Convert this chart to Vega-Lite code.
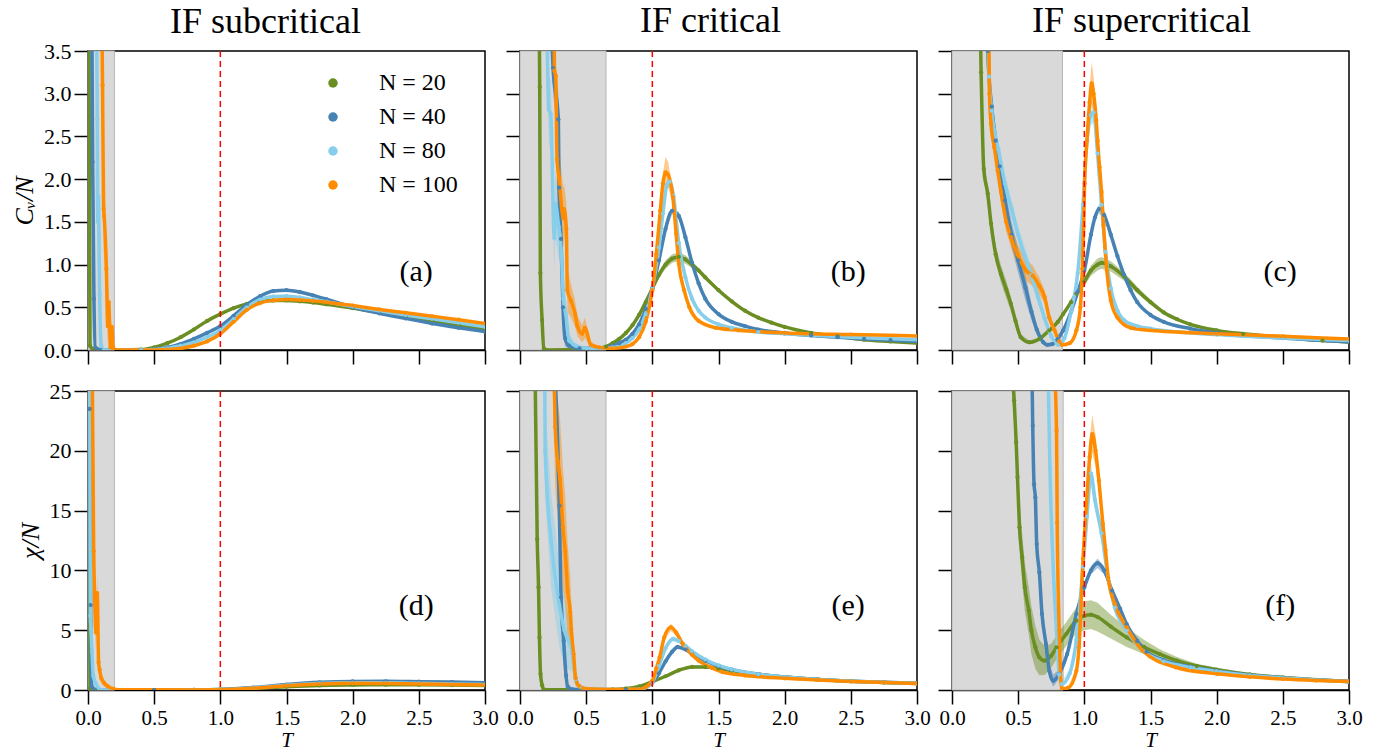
{
"$schema": "https://vega.github.io/schema/vega-lite/v6.json",
"padding": {"left": 10, "top": 2, "right": 5, "bottom": 0},
"background": "white",
"datasets": {
"shade": [
{"p":"a","t":0,"t2":0.2},{"p":"b","t":0,"t2":0.65},{"p":"c","t":0,"t2":0.835},
{"p":"d","t":0,"t2":0.2},{"p":"e","t":0,"t2":0.65},{"p":"f","t":0,"t2":0.84}],
"tc": [{"t": 1}],
"labels": [
{"p":"a","t":2.48,"v":0.91,"s":"(a)"},{"p":"b","t":2.48,"v":0.91,"s":"(b)"},{"p":"c","t":2.48,"v":0.91,"s":"(c)"},
{"p":"d","t":2.48,"v":7.0,"s":"(d)"},{"p":"e","t":2.48,"v":7.0,"s":"(e)"},{"p":"f","t":2.48,"v":7.0,"s":"(f)"}],
"curves": [
{"p":"a","n":"N = 20","t":0.005,"v":4.5,"e":0.5},{"p":"a","n":"N = 20","t":0.015,"v":0.05,"e":0.02},{"p":"a","n":"N = 20","t":0.05,"v":0,"e":0},{"p":"a","n":"N = 20","t":0.2,"v":0,"e":0},{"p":"a","n":"N = 20","t":0.4,"v":0.005,"e":0},{"p":"a","n":"N = 20","t":0.5,"v":0.03,"e":0},{"p":"a","n":"N = 20","t":0.6,"v":0.08,"e":0.005},{"p":"a","n":"N = 20","t":0.7,"v":0.15,"e":0.008},{"p":"a","n":"N = 20","t":0.8,"v":0.24,"e":0.01},{"p":"a","n":"N = 20","t":0.9,"v":0.34,"e":0.01},{"p":"a","n":"N = 20","t":1.0,"v":0.42,"e":0.01},{"p":"a","n":"N = 20","t":1.1,"v":0.49,"e":0.01},{"p":"a","n":"N = 20","t":1.2,"v":0.54,"e":0.01},{"p":"a","n":"N = 20","t":1.3,"v":0.57,"e":0.01},{"p":"a","n":"N = 20","t":1.4,"v":0.58,"e":0.01},{"p":"a","n":"N = 20","t":1.5,"v":0.58,"e":0.01},{"p":"a","n":"N = 20","t":1.6,"v":0.57,"e":0.01},{"p":"a","n":"N = 20","t":1.7,"v":0.555,"e":0.01},{"p":"a","n":"N = 20","t":1.8,"v":0.535,"e":0.01},{"p":"a","n":"N = 20","t":2.0,"v":0.49,"e":0.01},{"p":"a","n":"N = 20","t":2.2,"v":0.44,"e":0.01},{"p":"a","n":"N = 20","t":2.4,"v":0.39,"e":0.01},{"p":"a","n":"N = 20","t":2.6,"v":0.34,"e":0.01},{"p":"a","n":"N = 20","t":2.8,"v":0.29,"e":0.01},{"p":"a","n":"N = 20","t":3.0,"v":0.245,"e":0.01},
{"p":"a","n":"N = 40","t":0.025,"v":5,"e":0.5},{"p":"a","n":"N = 40","t":0.035,"v":2.2,"e":0.4},{"p":"a","n":"N = 40","t":0.045,"v":0.6,"e":0.3},{"p":"a","n":"N = 40","t":0.055,"v":0.03,"e":0.02},{"p":"a","n":"N = 40","t":0.1,"v":0,"e":0},{"p":"a","n":"N = 40","t":0.4,"v":0,"e":0},{"p":"a","n":"N = 40","t":0.5,"v":0.01,"e":0},{"p":"a","n":"N = 40","t":0.6,"v":0.03,"e":0.005},{"p":"a","n":"N = 40","t":0.7,"v":0.07,"e":0.005},{"p":"a","n":"N = 40","t":0.8,"v":0.13,"e":0.008},{"p":"a","n":"N = 40","t":0.9,"v":0.2,"e":0.01},{"p":"a","n":"N = 40","t":1.0,"v":0.28,"e":0.01},{"p":"a","n":"N = 40","t":1.1,"v":0.4,"e":0.01},{"p":"a","n":"N = 40","t":1.2,"v":0.53,"e":0.01},{"p":"a","n":"N = 40","t":1.3,"v":0.63,"e":0.01},{"p":"a","n":"N = 40","t":1.4,"v":0.69,"e":0.01},{"p":"a","n":"N = 40","t":1.5,"v":0.7,"e":0.01},{"p":"a","n":"N = 40","t":1.6,"v":0.68,"e":0.01},{"p":"a","n":"N = 40","t":1.7,"v":0.64,"e":0.01},{"p":"a","n":"N = 40","t":1.8,"v":0.595,"e":0.01},{"p":"a","n":"N = 40","t":2.0,"v":0.5,"e":0.01},{"p":"a","n":"N = 40","t":2.2,"v":0.43,"e":0.01},{"p":"a","n":"N = 40","t":2.4,"v":0.37,"e":0.01},{"p":"a","n":"N = 40","t":2.6,"v":0.31,"e":0.01},{"p":"a","n":"N = 40","t":2.8,"v":0.26,"e":0.01},{"p":"a","n":"N = 40","t":3.0,"v":0.215,"e":0.01},
{"p":"a","n":"N = 80","t":0.06,"v":5,"e":0.5},{"p":"a","n":"N = 80","t":0.07,"v":2.7,"e":0.5},{"p":"a","n":"N = 80","t":0.074,"v":1.5,"e":0.5},{"p":"a","n":"N = 80","t":0.078,"v":1.8,"e":0.5},{"p":"a","n":"N = 80","t":0.088,"v":0.65,"e":0.3},{"p":"a","n":"N = 80","t":0.1,"v":0.05,"e":0.03},{"p":"a","n":"N = 80","t":0.12,"v":0,"e":0},{"p":"a","n":"N = 80","t":0.4,"v":0,"e":0},{"p":"a","n":"N = 80","t":0.5,"v":0.005,"e":0},{"p":"a","n":"N = 80","t":0.6,"v":0.02,"e":0},{"p":"a","n":"N = 80","t":0.7,"v":0.05,"e":0.005},{"p":"a","n":"N = 80","t":0.8,"v":0.09,"e":0.005},{"p":"a","n":"N = 80","t":0.9,"v":0.15,"e":0.01},{"p":"a","n":"N = 80","t":1.0,"v":0.23,"e":0.01},{"p":"a","n":"N = 80","t":1.1,"v":0.36,"e":0.01},{"p":"a","n":"N = 80","t":1.2,"v":0.5,"e":0.01},{"p":"a","n":"N = 80","t":1.3,"v":0.59,"e":0.01},{"p":"a","n":"N = 80","t":1.4,"v":0.625,"e":0.01},{"p":"a","n":"N = 80","t":1.5,"v":0.63,"e":0.01},{"p":"a","n":"N = 80","t":1.6,"v":0.615,"e":0.01},{"p":"a","n":"N = 80","t":1.7,"v":0.59,"e":0.01},{"p":"a","n":"N = 80","t":1.8,"v":0.565,"e":0.01},{"p":"a","n":"N = 80","t":2.0,"v":0.51,"e":0.01},{"p":"a","n":"N = 80","t":2.2,"v":0.46,"e":0.01},{"p":"a","n":"N = 80","t":2.4,"v":0.41,"e":0.01},{"p":"a","n":"N = 80","t":2.6,"v":0.365,"e":0.01},{"p":"a","n":"N = 80","t":2.8,"v":0.32,"e":0.01},{"p":"a","n":"N = 80","t":3.0,"v":0.27,"e":0.01},
{"p":"a","n":"N = 100","t":0.09,"v":5,"e":0.6},{"p":"a","n":"N = 100","t":0.11,"v":3.1,"e":0.6},{"p":"a","n":"N = 100","t":0.118,"v":1.65,"e":0.5},{"p":"a","n":"N = 100","t":0.122,"v":1.57,"e":0.5},{"p":"a","n":"N = 100","t":0.139,"v":0.95,"e":0.4},{"p":"a","n":"N = 100","t":0.149,"v":0.28,"e":0.2},{"p":"a","n":"N = 100","t":0.156,"v":0.56,"e":0.2},{"p":"a","n":"N = 100","t":0.17,"v":0.03,"e":0.03},{"p":"a","n":"N = 100","t":0.18,"v":0.27,"e":0.1},{"p":"a","n":"N = 100","t":0.19,"v":0.02,"e":0.02},{"p":"a","n":"N = 100","t":0.22,"v":0,"e":0},{"p":"a","n":"N = 100","t":0.5,"v":0,"e":0},{"p":"a","n":"N = 100","t":0.6,"v":0.005,"e":0},{"p":"a","n":"N = 100","t":0.7,"v":0.02,"e":0},{"p":"a","n":"N = 100","t":0.8,"v":0.05,"e":0.005},{"p":"a","n":"N = 100","t":0.9,"v":0.1,"e":0.008},{"p":"a","n":"N = 100","t":1.0,"v":0.19,"e":0.01},{"p":"a","n":"N = 100","t":1.1,"v":0.33,"e":0.01},{"p":"a","n":"N = 100","t":1.2,"v":0.47,"e":0.01},{"p":"a","n":"N = 100","t":1.3,"v":0.55,"e":0.01},{"p":"a","n":"N = 100","t":1.4,"v":0.58,"e":0.01},{"p":"a","n":"N = 100","t":1.5,"v":0.59,"e":0.01},{"p":"a","n":"N = 100","t":1.6,"v":0.585,"e":0.01},{"p":"a","n":"N = 100","t":1.7,"v":0.575,"e":0.01},{"p":"a","n":"N = 100","t":1.8,"v":0.56,"e":0.01},{"p":"a","n":"N = 100","t":2.0,"v":0.52,"e":0.01},{"p":"a","n":"N = 100","t":2.2,"v":0.475,"e":0.01},{"p":"a","n":"N = 100","t":2.4,"v":0.435,"e":0.01},{"p":"a","n":"N = 100","t":2.6,"v":0.395,"e":0.01},{"p":"a","n":"N = 100","t":2.8,"v":0.355,"e":0.01},{"p":"a","n":"N = 100","t":3.0,"v":0.31,"e":0.01},

{"p":"b","n":"N = 20","t":0.14,"v":5,"e":0.1},{"p":"b","n":"N = 20","t":0.149,"v":3.08,"e":0.1},{"p":"b","n":"N = 20","t":0.154,"v":0.9,"e":0.1},{"p":"b","n":"N = 20","t":0.167,"v":0.35,"e":0.05},{"p":"b","n":"N = 20","t":0.18,"v":0.02,"e":0.01},{"p":"b","n":"N = 20","t":0.2,"v":0,"e":0},{"p":"b","n":"N = 20","t":0.5,"v":0.005,"e":0},{"p":"b","n":"N = 20","t":0.6,"v":0.02,"e":0},{"p":"b","n":"N = 20","t":0.65,"v":0.04,"e":0.005},{"p":"b","n":"N = 20","t":0.7,"v":0.08,"e":0.005},{"p":"b","n":"N = 20","t":0.75,"v":0.13,"e":0.01},{"p":"b","n":"N = 20","t":0.8,"v":0.2,"e":0.01},{"p":"b","n":"N = 20","t":0.85,"v":0.29,"e":0.01},{"p":"b","n":"N = 20","t":0.9,"v":0.41,"e":0.015},{"p":"b","n":"N = 20","t":0.95,"v":0.56,"e":0.02},{"p":"b","n":"N = 20","t":1.0,"v":0.72,"e":0.03},{"p":"b","n":"N = 20","t":1.05,"v":0.88,"e":0.04},{"p":"b","n":"N = 20","t":1.1,"v":1.0,"e":0.05},{"p":"b","n":"N = 20","t":1.15,"v":1.07,"e":0.05},{"p":"b","n":"N = 20","t":1.2,"v":1.09,"e":0.05},{"p":"b","n":"N = 20","t":1.25,"v":1.06,"e":0.05},{"p":"b","n":"N = 20","t":1.3,"v":1.0,"e":0.04},{"p":"b","n":"N = 20","t":1.35,"v":0.93,"e":0.03},{"p":"b","n":"N = 20","t":1.4,"v":0.85,"e":0.03},{"p":"b","n":"N = 20","t":1.5,"v":0.7,"e":0.02},{"p":"b","n":"N = 20","t":1.6,"v":0.57,"e":0.02},{"p":"b","n":"N = 20","t":1.7,"v":0.46,"e":0.015},{"p":"b","n":"N = 20","t":1.8,"v":0.38,"e":0.01},{"p":"b","n":"N = 20","t":1.9,"v":0.32,"e":0.01},{"p":"b","n":"N = 20","t":2.0,"v":0.27,"e":0.01},{"p":"b","n":"N = 20","t":2.2,"v":0.2,"e":0.01},{"p":"b","n":"N = 20","t":2.4,"v":0.16,"e":0.01},{"p":"b","n":"N = 20","t":2.6,"v":0.12,"e":0.01},{"p":"b","n":"N = 20","t":2.8,"v":0.1,"e":0.01},{"p":"b","n":"N = 20","t":3.0,"v":0.08,"e":0.01},
{"p":"b","n":"N = 40","t":0.21,"v":5,"e":0.3},{"p":"b","n":"N = 40","t":0.25,"v":3.3,"e":0.3},{"p":"b","n":"N = 40","t":0.29,"v":2.7,"e":0.3},{"p":"b","n":"N = 40","t":0.295,"v":1.9,"e":0.3},{"p":"b","n":"N = 40","t":0.31,"v":1.3,"e":0.3},{"p":"b","n":"N = 40","t":0.325,"v":0.5,"e":0.2},{"p":"b","n":"N = 40","t":0.34,"v":0.14,"e":0.1},{"p":"b","n":"N = 40","t":0.37,"v":0.05,"e":0.03},{"p":"b","n":"N = 40","t":0.45,"v":0.02,"e":0.01},{"p":"b","n":"N = 40","t":0.6,"v":0.02,"e":0},{"p":"b","n":"N = 40","t":0.7,"v":0.05,"e":0},{"p":"b","n":"N = 40","t":0.75,"v":0.08,"e":0.005},{"p":"b","n":"N = 40","t":0.8,"v":0.12,"e":0.005},{"p":"b","n":"N = 40","t":0.85,"v":0.19,"e":0.01},{"p":"b","n":"N = 40","t":0.9,"v":0.3,"e":0.01},{"p":"b","n":"N = 40","t":0.95,"v":0.48,"e":0.02},{"p":"b","n":"N = 40","t":1.0,"v":0.72,"e":0.02},{"p":"b","n":"N = 40","t":1.05,"v":1.05,"e":0.03},{"p":"b","n":"N = 40","t":1.1,"v":1.42,"e":0.03},{"p":"b","n":"N = 40","t":1.15,"v":1.63,"e":0.04},{"p":"b","n":"N = 40","t":1.2,"v":1.57,"e":0.04},{"p":"b","n":"N = 40","t":1.25,"v":1.32,"e":0.03},{"p":"b","n":"N = 40","t":1.3,"v":1.02,"e":0.03},{"p":"b","n":"N = 40","t":1.35,"v":0.78,"e":0.02},{"p":"b","n":"N = 40","t":1.4,"v":0.6,"e":0.02},{"p":"b","n":"N = 40","t":1.5,"v":0.42,"e":0.01},{"p":"b","n":"N = 40","t":1.6,"v":0.33,"e":0.01},{"p":"b","n":"N = 40","t":1.7,"v":0.28,"e":0.01},{"p":"b","n":"N = 40","t":1.8,"v":0.24,"e":0.01},{"p":"b","n":"N = 40","t":2.0,"v":0.2,"e":0.01},{"p":"b","n":"N = 40","t":2.2,"v":0.17,"e":0.01},{"p":"b","n":"N = 40","t":2.4,"v":0.15,"e":0.01},{"p":"b","n":"N = 40","t":2.6,"v":0.13,"e":0.01},{"p":"b","n":"N = 40","t":2.8,"v":0.115,"e":0.01},{"p":"b","n":"N = 40","t":3.0,"v":0.1,"e":0.01},
{"p":"b","n":"N = 80","t":0.195,"v":5,"e":0.4},{"p":"b","n":"N = 80","t":0.217,"v":2.82,"e":0.4},{"p":"b","n":"N = 80","t":0.232,"v":2.76,"e":0.4},{"p":"b","n":"N = 80","t":0.259,"v":1.31,"e":0.4},{"p":"b","n":"N = 80","t":0.267,"v":1.71,"e":0.4},{"p":"b","n":"N = 80","t":0.293,"v":1.44,"e":0.35},{"p":"b","n":"N = 80","t":0.3,"v":1.35,"e":0.35},{"p":"b","n":"N = 80","t":0.313,"v":1.13,"e":0.3},{"p":"b","n":"N = 80","t":0.328,"v":0.6,"e":0.25},{"p":"b","n":"N = 80","t":0.346,"v":0.42,"e":0.2},{"p":"b","n":"N = 80","t":0.371,"v":0.11,"e":0.08},{"p":"b","n":"N = 80","t":0.42,"v":0.05,"e":0.03},{"p":"b","n":"N = 80","t":0.5,"v":0.02,"e":0.01},{"p":"b","n":"N = 80","t":0.6,"v":0.02,"e":0},{"p":"b","n":"N = 80","t":0.7,"v":0.03,"e":0},{"p":"b","n":"N = 80","t":0.8,"v":0.08,"e":0.005},{"p":"b","n":"N = 80","t":0.85,"v":0.14,"e":0.01},{"p":"b","n":"N = 80","t":0.9,"v":0.24,"e":0.01},{"p":"b","n":"N = 80","t":0.95,"v":0.42,"e":0.02},{"p":"b","n":"N = 80","t":1.0,"v":0.72,"e":0.03},{"p":"b","n":"N = 80","t":1.05,"v":1.2,"e":0.04},{"p":"b","n":"N = 80","t":1.08,"v":1.6,"e":0.05},{"p":"b","n":"N = 80","t":1.11,"v":1.93,"e":0.06},{"p":"b","n":"N = 80","t":1.13,"v":1.97,"e":0.06},{"p":"b","n":"N = 80","t":1.16,"v":1.8,"e":0.05},{"p":"b","n":"N = 80","t":1.2,"v":1.25,"e":0.04},{"p":"b","n":"N = 80","t":1.25,"v":0.85,"e":0.03},{"p":"b","n":"N = 80","t":1.3,"v":0.6,"e":0.02},{"p":"b","n":"N = 80","t":1.35,"v":0.46,"e":0.02},{"p":"b","n":"N = 80","t":1.4,"v":0.38,"e":0.01},{"p":"b","n":"N = 80","t":1.5,"v":0.3,"e":0.01},{"p":"b","n":"N = 80","t":1.6,"v":0.26,"e":0.01},{"p":"b","n":"N = 80","t":1.8,"v":0.21,"e":0.01},{"p":"b","n":"N = 80","t":2.0,"v":0.19,"e":0.01},{"p":"b","n":"N = 80","t":2.5,"v":0.15,"e":0.01},{"p":"b","n":"N = 80","t":3.0,"v":0.12,"e":0.01},
{"p":"b","n":"N = 100","t":0.255,"v":5,"e":0.4},{"p":"b","n":"N = 100","t":0.26,"v":3.27,"e":0.4},{"p":"b","n":"N = 100","t":0.27,"v":3.21,"e":0.4},{"p":"b","n":"N = 100","t":0.28,"v":2.23,"e":0.4},{"p":"b","n":"N = 100","t":0.295,"v":2.01,"e":0.35},{"p":"b","n":"N = 100","t":0.328,"v":1.54,"e":0.35},{"p":"b","n":"N = 100","t":0.333,"v":1.65,"e":0.3},{"p":"b","n":"N = 100","t":0.35,"v":1.42,"e":0.3},{"p":"b","n":"N = 100","t":0.358,"v":0.7,"e":0.25},{"p":"b","n":"N = 100","t":0.384,"v":0.58,"e":0.2},{"p":"b","n":"N = 100","t":0.417,"v":0.42,"e":0.15},{"p":"b","n":"N = 100","t":0.434,"v":0.28,"e":0.12},{"p":"b","n":"N = 100","t":0.47,"v":0.19,"e":0.1},{"p":"b","n":"N = 100","t":0.49,"v":0.26,"e":0.12},{"p":"b","n":"N = 100","t":0.535,"v":0.06,"e":0.04},{"p":"b","n":"N = 100","t":0.57,"v":0.04,"e":0.02},{"p":"b","n":"N = 100","t":0.6,"v":0.03,"e":0.01},{"p":"b","n":"N = 100","t":0.7,"v":0.02,"e":0},{"p":"b","n":"N = 100","t":0.8,"v":0.04,"e":0},{"p":"b","n":"N = 100","t":0.85,"v":0.07,"e":0.005},{"p":"b","n":"N = 100","t":0.9,"v":0.15,"e":0.01},{"p":"b","n":"N = 100","t":0.95,"v":0.33,"e":0.02},{"p":"b","n":"N = 100","t":1.0,"v":0.7,"e":0.03},{"p":"b","n":"N = 100","t":1.03,"v":1.12,"e":0.05},{"p":"b","n":"N = 100","t":1.06,"v":1.63,"e":0.08},{"p":"b","n":"N = 100","t":1.08,"v":1.95,"e":0.12},{"p":"b","n":"N = 100","t":1.1,"v":2.08,"e":0.18},{"p":"b","n":"N = 100","t":1.12,"v":2.05,"e":0.15},{"p":"b","n":"N = 100","t":1.155,"v":1.79,"e":0.08},{"p":"b","n":"N = 100","t":1.18,"v":1.36,"e":0.05},{"p":"b","n":"N = 100","t":1.2,"v":1.01,"e":0.04},{"p":"b","n":"N = 100","t":1.24,"v":0.7,"e":0.03},{"p":"b","n":"N = 100","t":1.28,"v":0.5,"e":0.02},{"p":"b","n":"N = 100","t":1.35,"v":0.34,"e":0.01},{"p":"b","n":"N = 100","t":1.48,"v":0.26,"e":0.01},{"p":"b","n":"N = 100","t":1.65,"v":0.23,"e":0.01},{"p":"b","n":"N = 100","t":2.0,"v":0.2,"e":0.01},{"p":"b","n":"N = 100","t":2.5,"v":0.18,"e":0.01},{"p":"b","n":"N = 100","t":3.0,"v":0.165,"e":0.01},

{"p":"c","n":"N = 20","t":0.2,"v":5,"e":0.15},{"p":"c","n":"N = 20","t":0.22,"v":3.25,"e":0.15},{"p":"c","n":"N = 20","t":0.24,"v":2.12,"e":0.12},{"p":"c","n":"N = 20","t":0.27,"v":1.83,"e":0.1},{"p":"c","n":"N = 20","t":0.295,"v":1.48,"e":0.1},{"p":"c","n":"N = 20","t":0.33,"v":1.12,"e":0.1},{"p":"c","n":"N = 20","t":0.37,"v":0.89,"e":0.1},{"p":"c","n":"N = 20","t":0.41,"v":0.71,"e":0.1},{"p":"c","n":"N = 20","t":0.445,"v":0.54,"e":0.08},{"p":"c","n":"N = 20","t":0.48,"v":0.34,"e":0.06},{"p":"c","n":"N = 20","t":0.52,"v":0.15,"e":0.03},{"p":"c","n":"N = 20","t":0.585,"v":0.09,"e":0.02},{"p":"c","n":"N = 20","t":0.66,"v":0.13,"e":0.02},{"p":"c","n":"N = 20","t":0.735,"v":0.23,"e":0.02},{"p":"c","n":"N = 20","t":0.8,"v":0.33,"e":0.02},{"p":"c","n":"N = 20","t":0.84,"v":0.42,"e":0.02},{"p":"c","n":"N = 20","t":0.9,"v":0.56,"e":0.03},{"p":"c","n":"N = 20","t":0.94,"v":0.66,"e":0.04},{"p":"c","n":"N = 20","t":1.0,"v":0.8,"e":0.05},{"p":"c","n":"N = 20","t":1.05,"v":0.93,"e":0.06},{"p":"c","n":"N = 20","t":1.1,"v":1.0,"e":0.07},{"p":"c","n":"N = 20","t":1.13,"v":1.02,"e":0.07},{"p":"c","n":"N = 20","t":1.2,"v":0.98,"e":0.06},{"p":"c","n":"N = 20","t":1.3,"v":0.86,"e":0.05},{"p":"c","n":"N = 20","t":1.4,"v":0.7,"e":0.04},{"p":"c","n":"N = 20","t":1.5,"v":0.56,"e":0.03},{"p":"c","n":"N = 20","t":1.6,"v":0.44,"e":0.02},{"p":"c","n":"N = 20","t":1.7,"v":0.36,"e":0.02},{"p":"c","n":"N = 20","t":1.8,"v":0.3,"e":0.01},{"p":"c","n":"N = 20","t":2.0,"v":0.23,"e":0.01},{"p":"c","n":"N = 20","t":2.2,"v":0.19,"e":0.01},{"p":"c","n":"N = 20","t":2.5,"v":0.15,"e":0.01},{"p":"c","n":"N = 20","t":2.8,"v":0.11,"e":0.01},{"p":"c","n":"N = 20","t":3.0,"v":0.095,"e":0.01},
{"p":"c","n":"N = 40","t":0.25,"v":5,"e":0.15},{"p":"c","n":"N = 40","t":0.27,"v":3.5,"e":0.15},{"p":"c","n":"N = 40","t":0.3,"v":2.85,"e":0.15},{"p":"c","n":"N = 40","t":0.33,"v":2.45,"e":0.15},{"p":"c","n":"N = 40","t":0.36,"v":2.15,"e":0.15},{"p":"c","n":"N = 40","t":0.4,"v":1.75,"e":0.15},{"p":"c","n":"N = 40","t":0.45,"v":1.35,"e":0.15},{"p":"c","n":"N = 40","t":0.5,"v":1.05,"e":0.15},{"p":"c","n":"N = 40","t":0.555,"v":0.73,"e":0.15},{"p":"c","n":"N = 40","t":0.6,"v":0.45,"e":0.1},{"p":"c","n":"N = 40","t":0.64,"v":0.24,"e":0.06},{"p":"c","n":"N = 40","t":0.69,"v":0.09,"e":0.03},{"p":"c","n":"N = 40","t":0.72,"v":0.06,"e":0.02},{"p":"c","n":"N = 40","t":0.76,"v":0.07,"e":0.02},{"p":"c","n":"N = 40","t":0.8,"v":0.13,"e":0.02},{"p":"c","n":"N = 40","t":0.84,"v":0.23,"e":0.02},{"p":"c","n":"N = 40","t":0.9,"v":0.45,"e":0.02},{"p":"c","n":"N = 40","t":0.95,"v":0.68,"e":0.03},{"p":"c","n":"N = 40","t":1.0,"v":0.93,"e":0.03},{"p":"c","n":"N = 40","t":1.05,"v":1.35,"e":0.04},{"p":"c","n":"N = 40","t":1.08,"v":1.55,"e":0.04},{"p":"c","n":"N = 40","t":1.11,"v":1.65,"e":0.05},{"p":"c","n":"N = 40","t":1.15,"v":1.58,"e":0.04},{"p":"c","n":"N = 40","t":1.2,"v":1.35,"e":0.04},{"p":"c","n":"N = 40","t":1.25,"v":1.1,"e":0.03},{"p":"c","n":"N = 40","t":1.3,"v":0.88,"e":0.03},{"p":"c","n":"N = 40","t":1.35,"v":0.7,"e":0.02},{"p":"c","n":"N = 40","t":1.4,"v":0.56,"e":0.02},{"p":"c","n":"N = 40","t":1.5,"v":0.41,"e":0.01},{"p":"c","n":"N = 40","t":1.6,"v":0.33,"e":0.01},{"p":"c","n":"N = 40","t":1.8,"v":0.25,"e":0.01},{"p":"c","n":"N = 40","t":2.0,"v":0.2,"e":0.01},{"p":"c","n":"N = 40","t":2.5,"v":0.14,"e":0.01},{"p":"c","n":"N = 40","t":3.0,"v":0.095,"e":0.01},
{"p":"c","n":"N = 80","t":0.26,"v":5,"e":0.15},{"p":"c","n":"N = 80","t":0.28,"v":3.2,"e":0.15},{"p":"c","n":"N = 80","t":0.3,"v":2.8,"e":0.12},{"p":"c","n":"N = 80","t":0.35,"v":2.35,"e":0.1},{"p":"c","n":"N = 80","t":0.4,"v":1.95,"e":0.1},{"p":"c","n":"N = 80","t":0.45,"v":1.65,"e":0.1},{"p":"c","n":"N = 80","t":0.5,"v":1.35,"e":0.1},{"p":"c","n":"N = 80","t":0.55,"v":1.1,"e":0.1},{"p":"c","n":"N = 80","t":0.6,"v":0.88,"e":0.1},{"p":"c","n":"N = 80","t":0.65,"v":0.62,"e":0.08},{"p":"c","n":"N = 80","t":0.7,"v":0.37,"e":0.05},{"p":"c","n":"N = 80","t":0.75,"v":0.16,"e":0.03},{"p":"c","n":"N = 80","t":0.8,"v":0.06,"e":0.02},{"p":"c","n":"N = 80","t":0.85,"v":0.14,"e":0.02},{"p":"c","n":"N = 80","t":0.9,"v":0.45,"e":0.03},{"p":"c","n":"N = 80","t":0.95,"v":0.9,"e":0.05},{"p":"c","n":"N = 80","t":0.99,"v":1.7,"e":0.08},{"p":"c","n":"N = 80","t":1.02,"v":2.45,"e":0.1},{"p":"c","n":"N = 80","t":1.05,"v":2.75,"e":0.12},{"p":"c","n":"N = 80","t":1.07,"v":2.78,"e":0.12},{"p":"c","n":"N = 80","t":1.1,"v":2.3,"e":0.1},{"p":"c","n":"N = 80","t":1.13,"v":1.7,"e":0.06},{"p":"c","n":"N = 80","t":1.16,"v":1.15,"e":0.05},{"p":"c","n":"N = 80","t":1.2,"v":0.72,"e":0.03},{"p":"c","n":"N = 80","t":1.25,"v":0.46,"e":0.02},{"p":"c","n":"N = 80","t":1.3,"v":0.35,"e":0.01},{"p":"c","n":"N = 80","t":1.4,"v":0.28,"e":0.01},{"p":"c","n":"N = 80","t":1.5,"v":0.25,"e":0.01},{"p":"c","n":"N = 80","t":2.0,"v":0.18,"e":0.01},{"p":"c","n":"N = 80","t":2.5,"v":0.14,"e":0.01},{"p":"c","n":"N = 80","t":3.0,"v":0.11,"e":0.01},
{"p":"c","n":"N = 100","t":0.27,"v":5,"e":0.15},{"p":"c","n":"N = 100","t":0.283,"v":3.0,"e":0.15},{"p":"c","n":"N = 100","t":0.295,"v":2.65,"e":0.15},{"p":"c","n":"N = 100","t":0.32,"v":2.37,"e":0.12},{"p":"c","n":"N = 100","t":0.345,"v":2.1,"e":0.12},{"p":"c","n":"N = 100","t":0.37,"v":1.85,"e":0.12},{"p":"c","n":"N = 100","t":0.41,"v":1.5,"e":0.12},{"p":"c","n":"N = 100","t":0.445,"v":1.32,"e":0.12},{"p":"c","n":"N = 100","t":0.495,"v":1.12,"e":0.12},{"p":"c","n":"N = 100","t":0.56,"v":0.93,"e":0.12},{"p":"c","n":"N = 100","t":0.61,"v":0.87,"e":0.12},{"p":"c","n":"N = 100","t":0.66,"v":0.75,"e":0.1},{"p":"c","n":"N = 100","t":0.7,"v":0.62,"e":0.08},{"p":"c","n":"N = 100","t":0.735,"v":0.38,"e":0.06},{"p":"c","n":"N = 100","t":0.775,"v":0.23,"e":0.04},{"p":"c","n":"N = 100","t":0.81,"v":0.1,"e":0.03},{"p":"c","n":"N = 100","t":0.83,"v":0.06,"e":0.02},{"p":"c","n":"N = 100","t":0.89,"v":0.08,"e":0.02},{"p":"c","n":"N = 100","t":0.94,"v":0.23,"e":0.02},{"p":"c","n":"N = 100","t":0.97,"v":0.5,"e":0.03},{"p":"c","n":"N = 100","t":0.985,"v":0.95,"e":0.05},{"p":"c","n":"N = 100","t":0.995,"v":1.45,"e":0.08},{"p":"c","n":"N = 100","t":1.002,"v":1.95,"e":0.1},{"p":"c","n":"N = 100","t":1.02,"v":2.45,"e":0.12},{"p":"c","n":"N = 100","t":1.04,"v":2.9,"e":0.18},{"p":"c","n":"N = 100","t":1.055,"v":3.12,"e":0.25},{"p":"c","n":"N = 100","t":1.07,"v":3.0,"e":0.2},{"p":"c","n":"N = 100","t":1.09,"v":2.69,"e":0.15},{"p":"c","n":"N = 100","t":1.1,"v":2.45,"e":0.12},{"p":"c","n":"N = 100","t":1.115,"v":2.14,"e":0.1},{"p":"c","n":"N = 100","t":1.13,"v":1.85,"e":0.08},{"p":"c","n":"N = 100","t":1.145,"v":1.46,"e":0.06},{"p":"c","n":"N = 100","t":1.17,"v":0.93,"e":0.04},{"p":"c","n":"N = 100","t":1.2,"v":0.58,"e":0.03},{"p":"c","n":"N = 100","t":1.25,"v":0.38,"e":0.02},{"p":"c","n":"N = 100","t":1.35,"v":0.26,"e":0.01},{"p":"c","n":"N = 100","t":1.5,"v":0.23,"e":0.01},{"p":"c","n":"N = 100","t":2.0,"v":0.19,"e":0.01},{"p":"c","n":"N = 100","t":2.5,"v":0.16,"e":0.01},{"p":"c","n":"N = 100","t":3.0,"v":0.13,"e":0.01},

{"p":"d","n":"N = 20","t":0.005,"v":30,"e":0},{"p":"d","n":"N = 20","t":0.015,"v":0.1,"e":0.05},{"p":"d","n":"N = 20","t":0.05,"v":0,"e":0},{"p":"d","n":"N = 20","t":0.5,"v":0,"e":0},{"p":"d","n":"N = 20","t":0.8,"v":0.01,"e":0},{"p":"d","n":"N = 20","t":1.0,"v":0.04,"e":0},{"p":"d","n":"N = 20","t":1.25,"v":0.15,"e":0.01},{"p":"d","n":"N = 20","t":1.5,"v":0.28,"e":0.02},{"p":"d","n":"N = 20","t":1.75,"v":0.38,"e":0.02},{"p":"d","n":"N = 20","t":2.0,"v":0.42,"e":0.02},{"p":"d","n":"N = 20","t":2.25,"v":0.44,"e":0.02},{"p":"d","n":"N = 20","t":2.5,"v":0.43,"e":0.02},{"p":"d","n":"N = 20","t":2.75,"v":0.41,"e":0.02},{"p":"d","n":"N = 20","t":3.0,"v":0.38,"e":0.02},
{"p":"d","n":"N = 40","t":0.008,"v":30,"e":2},{"p":"d","n":"N = 40","t":0.012,"v":23.5,"e":2},{"p":"d","n":"N = 40","t":0.02,"v":7.1,"e":1.5},{"p":"d","n":"N = 40","t":0.028,"v":0.3,"e":0.2},{"p":"d","n":"N = 40","t":0.04,"v":0.1,"e":0.05},{"p":"d","n":"N = 40","t":0.1,"v":0,"e":0},{"p":"d","n":"N = 40","t":0.5,"v":0,"e":0},{"p":"d","n":"N = 40","t":0.8,"v":0.01,"e":0},{"p":"d","n":"N = 40","t":1.0,"v":0.04,"e":0},{"p":"d","n":"N = 40","t":1.25,"v":0.2,"e":0.01},{"p":"d","n":"N = 40","t":1.5,"v":0.45,"e":0.02},{"p":"d","n":"N = 40","t":1.75,"v":0.64,"e":0.02},{"p":"d","n":"N = 40","t":2.0,"v":0.72,"e":0.02},{"p":"d","n":"N = 40","t":2.25,"v":0.73,"e":0.02},{"p":"d","n":"N = 40","t":2.5,"v":0.7,"e":0.02},{"p":"d","n":"N = 40","t":2.75,"v":0.66,"e":0.02},{"p":"d","n":"N = 40","t":3.0,"v":0.6,"e":0.02},
{"p":"d","n":"N = 80","t":0.012,"v":30,"e":2},{"p":"d","n":"N = 80","t":0.018,"v":6.2,"e":1.5},{"p":"d","n":"N = 80","t":0.022,"v":5.1,"e":1.5},{"p":"d","n":"N = 80","t":0.03,"v":3.2,"e":1},{"p":"d","n":"N = 80","t":0.04,"v":1.2,"e":0.5},{"p":"d","n":"N = 80","t":0.06,"v":0.5,"e":0.3},{"p":"d","n":"N = 80","t":0.1,"v":0.02,"e":0.02},{"p":"d","n":"N = 80","t":0.2,"v":0,"e":0},{"p":"d","n":"N = 80","t":0.8,"v":0.01,"e":0},{"p":"d","n":"N = 80","t":1.0,"v":0.03,"e":0},{"p":"d","n":"N = 80","t":1.25,"v":0.17,"e":0.01},{"p":"d","n":"N = 80","t":1.5,"v":0.4,"e":0.02},{"p":"d","n":"N = 80","t":1.75,"v":0.55,"e":0.02},{"p":"d","n":"N = 80","t":2.0,"v":0.6,"e":0.02},{"p":"d","n":"N = 80","t":2.25,"v":0.6,"e":0.02},{"p":"d","n":"N = 80","t":2.5,"v":0.56,"e":0.02},{"p":"d","n":"N = 80","t":2.75,"v":0.51,"e":0.02},{"p":"d","n":"N = 80","t":3.0,"v":0.46,"e":0.02},
{"p":"d","n":"N = 100","t":0.03,"v":30,"e":2},{"p":"d","n":"N = 100","t":0.043,"v":11.6,"e":2},{"p":"d","n":"N = 100","t":0.05,"v":7.8,"e":1.5},{"p":"d","n":"N = 100","t":0.06,"v":4.8,"e":1.5},{"p":"d","n":"N = 100","t":0.07,"v":8.1,"e":1.5},{"p":"d","n":"N = 100","t":0.08,"v":2.3,"e":0.8},{"p":"d","n":"N = 100","t":0.088,"v":1.7,"e":0.6},{"p":"d","n":"N = 100","t":0.1,"v":1.0,"e":0.4},{"p":"d","n":"N = 100","t":0.12,"v":0.6,"e":0.3},{"p":"d","n":"N = 100","t":0.15,"v":0.3,"e":0.15},{"p":"d","n":"N = 100","t":0.19,"v":0.1,"e":0.05},{"p":"d","n":"N = 100","t":0.22,"v":0.02,"e":0},{"p":"d","n":"N = 100","t":0.8,"v":0.01,"e":0},{"p":"d","n":"N = 100","t":1.0,"v":0.03,"e":0},{"p":"d","n":"N = 100","t":1.25,"v":0.15,"e":0.01},{"p":"d","n":"N = 100","t":1.5,"v":0.36,"e":0.02},{"p":"d","n":"N = 100","t":1.75,"v":0.5,"e":0.02},{"p":"d","n":"N = 100","t":2.0,"v":0.56,"e":0.02},{"p":"d","n":"N = 100","t":2.25,"v":0.55,"e":0.02},{"p":"d","n":"N = 100","t":2.5,"v":0.51,"e":0.02},{"p":"d","n":"N = 100","t":2.75,"v":0.46,"e":0.02},{"p":"d","n":"N = 100","t":3.0,"v":0.41,"e":0.02},

{"p":"e","n":"N = 20","t":0.11,"v":30,"e":1},{"p":"e","n":"N = 20","t":0.13,"v":12.6,"e":1},{"p":"e","n":"N = 20","t":0.14,"v":8.6,"e":0.8},{"p":"e","n":"N = 20","t":0.147,"v":4.4,"e":0.5},{"p":"e","n":"N = 20","t":0.155,"v":1.34,"e":0.3},{"p":"e","n":"N = 20","t":0.167,"v":0.4,"e":0.1},{"p":"e","n":"N = 20","t":0.18,"v":0.05,"e":0.02},{"p":"e","n":"N = 20","t":0.5,"v":0.01,"e":0},{"p":"e","n":"N = 20","t":0.7,"v":0.03,"e":0},{"p":"e","n":"N = 20","t":0.8,"v":0.12,"e":0.01},{"p":"e","n":"N = 20","t":0.9,"v":0.3,"e":0.02},{"p":"e","n":"N = 20","t":1.0,"v":0.7,"e":0.04},{"p":"e","n":"N = 20","t":1.1,"v":1.15,"e":0.08},{"p":"e","n":"N = 20","t":1.2,"v":1.65,"e":0.1},{"p":"e","n":"N = 20","t":1.3,"v":1.93,"e":0.12},{"p":"e","n":"N = 20","t":1.4,"v":1.92,"e":0.12},{"p":"e","n":"N = 20","t":1.5,"v":1.8,"e":0.1},{"p":"e","n":"N = 20","t":1.6,"v":1.62,"e":0.08},{"p":"e","n":"N = 20","t":1.8,"v":1.32,"e":0.06},{"p":"e","n":"N = 20","t":2.0,"v":1.08,"e":0.05},{"p":"e","n":"N = 20","t":2.25,"v":0.88,"e":0.04},{"p":"e","n":"N = 20","t":2.5,"v":0.74,"e":0.03},{"p":"e","n":"N = 20","t":2.75,"v":0.63,"e":0.03},{"p":"e","n":"N = 20","t":3.0,"v":0.55,"e":0.03},
{"p":"e","n":"N = 40","t":0.24,"v":30,"e":3},{"p":"e","n":"N = 40","t":0.297,"v":15.4,"e":3},{"p":"e","n":"N = 40","t":0.31,"v":7.75,"e":2.5},{"p":"e","n":"N = 40","t":0.33,"v":4.1,"e":2},{"p":"e","n":"N = 40","t":0.348,"v":1.2,"e":0.8},{"p":"e","n":"N = 40","t":0.36,"v":0.3,"e":0.2},{"p":"e","n":"N = 40","t":0.4,"v":0.05,"e":0.02},{"p":"e","n":"N = 40","t":0.8,"v":0.02,"e":0},{"p":"e","n":"N = 40","t":0.9,"v":0.05,"e":0},{"p":"e","n":"N = 40","t":1.0,"v":0.6,"e":0.03},{"p":"e","n":"N = 40","t":1.05,"v":1.4,"e":0.06},{"p":"e","n":"N = 40","t":1.1,"v":2.4,"e":0.1},{"p":"e","n":"N = 40","t":1.15,"v":3.2,"e":0.15},{"p":"e","n":"N = 40","t":1.19,"v":3.6,"e":0.18},{"p":"e","n":"N = 40","t":1.25,"v":3.4,"e":0.15},{"p":"e","n":"N = 40","t":1.3,"v":3.05,"e":0.12},{"p":"e","n":"N = 40","t":1.4,"v":2.45,"e":0.1},{"p":"e","n":"N = 40","t":1.5,"v":2.0,"e":0.08},{"p":"e","n":"N = 40","t":1.6,"v":1.7,"e":0.06},{"p":"e","n":"N = 40","t":1.8,"v":1.32,"e":0.05},{"p":"e","n":"N = 40","t":2.0,"v":1.08,"e":0.04},{"p":"e","n":"N = 40","t":2.25,"v":0.88,"e":0.03},{"p":"e","n":"N = 40","t":2.5,"v":0.74,"e":0.03},{"p":"e","n":"N = 40","t":2.75,"v":0.64,"e":0.03},{"p":"e","n":"N = 40","t":3.0,"v":0.56,"e":0.03},
{"p":"e","n":"N = 80","t":0.185,"v":30,"e":4},{"p":"e","n":"N = 80","t":0.19,"v":20.0,"e":4},{"p":"e","n":"N = 80","t":0.235,"v":12.5,"e":4},{"p":"e","n":"N = 80","t":0.297,"v":7.1,"e":3.5},{"p":"e","n":"N = 80","t":0.335,"v":5.0,"e":3},{"p":"e","n":"N = 80","t":0.398,"v":3.0,"e":1.5},{"p":"e","n":"N = 80","t":0.42,"v":0.9,"e":0.6},{"p":"e","n":"N = 80","t":0.45,"v":0.3,"e":0.2},{"p":"e","n":"N = 80","t":0.5,"v":0.1,"e":0.05},{"p":"e","n":"N = 80","t":0.9,"v":0.05,"e":0},{"p":"e","n":"N = 80","t":1.0,"v":0.65,"e":0.04},{"p":"e","n":"N = 80","t":1.05,"v":2.0,"e":0.1},{"p":"e","n":"N = 80","t":1.1,"v":3.5,"e":0.15},{"p":"e","n":"N = 80","t":1.155,"v":4.27,"e":0.2},{"p":"e","n":"N = 80","t":1.2,"v":4.1,"e":0.18},{"p":"e","n":"N = 80","t":1.25,"v":3.7,"e":0.15},{"p":"e","n":"N = 80","t":1.3,"v":3.25,"e":0.12},{"p":"e","n":"N = 80","t":1.4,"v":2.55,"e":0.1},{"p":"e","n":"N = 80","t":1.5,"v":2.05,"e":0.08},{"p":"e","n":"N = 80","t":1.6,"v":1.72,"e":0.06},{"p":"e","n":"N = 80","t":1.8,"v":1.32,"e":0.05},{"p":"e","n":"N = 80","t":2.0,"v":1.08,"e":0.04},{"p":"e","n":"N = 80","t":2.25,"v":0.88,"e":0.03},{"p":"e","n":"N = 80","t":2.5,"v":0.74,"e":0.03},{"p":"e","n":"N = 80","t":2.75,"v":0.64,"e":0.03},{"p":"e","n":"N = 80","t":3.0,"v":0.56,"e":0.03},
{"p":"e","n":"N = 100","t":0.25,"v":30,"e":5},{"p":"e","n":"N = 100","t":0.266,"v":22,"e":5},{"p":"e","n":"N = 100","t":0.286,"v":19.1,"e":5},{"p":"e","n":"N = 100","t":0.303,"v":17.6,"e":5},{"p":"e","n":"N = 100","t":0.324,"v":13.6,"e":5},{"p":"e","n":"N = 100","t":0.342,"v":11.6,"e":4.5},{"p":"e","n":"N = 100","t":0.36,"v":8.3,"e":4},{"p":"e","n":"N = 100","t":0.38,"v":6.5,"e":3},{"p":"e","n":"N = 100","t":0.387,"v":5.1,"e":2.5},{"p":"e","n":"N = 100","t":0.405,"v":3.0,"e":1.5},{"p":"e","n":"N = 100","t":0.42,"v":1.0,"e":0.6},{"p":"e","n":"N = 100","t":0.445,"v":0.35,"e":0.2},{"p":"e","n":"N = 100","t":0.5,"v":0.1,"e":0.05},{"p":"e","n":"N = 100","t":0.7,"v":0.05,"e":0},{"p":"e","n":"N = 100","t":0.9,"v":0.06,"e":0},{"p":"e","n":"N = 100","t":1.0,"v":0.78,"e":0.05},{"p":"e","n":"N = 100","t":1.03,"v":1.8,"e":0.1},{"p":"e","n":"N = 100","t":1.055,"v":2.73,"e":0.15},{"p":"e","n":"N = 100","t":1.09,"v":4.4,"e":0.2},{"p":"e","n":"N = 100","t":1.14,"v":5.24,"e":0.3},{"p":"e","n":"N = 100","t":1.18,"v":4.8,"e":0.25},{"p":"e","n":"N = 100","t":1.23,"v":3.85,"e":0.18},{"p":"e","n":"N = 100","t":1.3,"v":2.95,"e":0.12},{"p":"e","n":"N = 100","t":1.35,"v":2.45,"e":0.1},{"p":"e","n":"N = 100","t":1.45,"v":1.85,"e":0.08},{"p":"e","n":"N = 100","t":1.53,"v":1.5,"e":0.06},{"p":"e","n":"N = 100","t":1.7,"v":1.22,"e":0.05},{"p":"e","n":"N = 100","t":2.0,"v":0.98,"e":0.04},{"p":"e","n":"N = 100","t":2.25,"v":0.84,"e":0.03},{"p":"e","n":"N = 100","t":2.5,"v":0.72,"e":0.03},{"p":"e","n":"N = 100","t":2.75,"v":0.63,"e":0.03},{"p":"e","n":"N = 100","t":3.0,"v":0.55,"e":0.03},

{"p":"f","n":"N = 20","t":0.43,"v":30,"e":2},{"p":"f","n":"N = 20","t":0.47,"v":24.2,"e":2},{"p":"f","n":"N = 20","t":0.485,"v":20.7,"e":2},{"p":"f","n":"N = 20","t":0.495,"v":17.8,"e":2},{"p":"f","n":"N = 20","t":0.51,"v":13.6,"e":2},{"p":"f","n":"N = 20","t":0.53,"v":11.1,"e":2},{"p":"f","n":"N = 20","t":0.55,"v":8.6,"e":2},{"p":"f","n":"N = 20","t":0.58,"v":6.64,"e":2},{"p":"f","n":"N = 20","t":0.6,"v":5.0,"e":2},{"p":"f","n":"N = 20","t":0.63,"v":3.57,"e":1.8},{"p":"f","n":"N = 20","t":0.66,"v":2.73,"e":1.5},{"p":"f","n":"N = 20","t":0.7,"v":2.45,"e":1.2},{"p":"f","n":"N = 20","t":0.75,"v":2.87,"e":1.0},{"p":"f","n":"N = 20","t":0.79,"v":3.57,"e":1.0},{"p":"f","n":"N = 20","t":0.865,"v":4.7,"e":1.0},{"p":"f","n":"N = 20","t":0.94,"v":5.8,"e":1.1},{"p":"f","n":"N = 20","t":1.0,"v":6.2,"e":1.2},{"p":"f","n":"N = 20","t":1.05,"v":6.3,"e":1.2},{"p":"f","n":"N = 20","t":1.1,"v":6.1,"e":1.2},{"p":"f","n":"N = 20","t":1.2,"v":5.3,"e":1.0},{"p":"f","n":"N = 20","t":1.32,"v":4.4,"e":0.8},{"p":"f","n":"N = 20","t":1.45,"v":3.6,"e":0.6},{"p":"f","n":"N = 20","t":1.57,"v":3.0,"e":0.4},{"p":"f","n":"N = 20","t":1.7,"v":2.45,"e":0.3},{"p":"f","n":"N = 20","t":1.85,"v":2.0,"e":0.2},{"p":"f","n":"N = 20","t":2.0,"v":1.7,"e":0.15},{"p":"f","n":"N = 20","t":2.25,"v":1.3,"e":0.1},{"p":"f","n":"N = 20","t":2.5,"v":1.05,"e":0.08},{"p":"f","n":"N = 20","t":2.75,"v":0.85,"e":0.06},{"p":"f","n":"N = 20","t":3.0,"v":0.7,"e":0.05},
{"p":"f","n":"N = 40","t":0.6,"v":30,"e":1},{"p":"f","n":"N = 40","t":0.61,"v":22.1,"e":1},{"p":"f","n":"N = 40","t":0.62,"v":17.2,"e":1},{"p":"f","n":"N = 40","t":0.63,"v":16.1,"e":1},{"p":"f","n":"N = 40","t":0.64,"v":12.2,"e":1},{"p":"f","n":"N = 40","t":0.66,"v":9.85,"e":1},{"p":"f","n":"N = 40","t":0.68,"v":6.36,"e":1},{"p":"f","n":"N = 40","t":0.71,"v":3.85,"e":0.8},{"p":"f","n":"N = 40","t":0.735,"v":1.6,"e":0.6},{"p":"f","n":"N = 40","t":0.765,"v":0.78,"e":0.5},{"p":"f","n":"N = 40","t":0.81,"v":1.35,"e":0.4},{"p":"f","n":"N = 40","t":0.87,"v":3.0,"e":0.3},{"p":"f","n":"N = 40","t":0.94,"v":6.36,"e":0.3},{"p":"f","n":"N = 40","t":1.0,"v":8.6,"e":0.3},{"p":"f","n":"N = 40","t":1.05,"v":10.0,"e":0.35},{"p":"f","n":"N = 40","t":1.1,"v":10.6,"e":0.4},{"p":"f","n":"N = 40","t":1.15,"v":10.0,"e":0.35},{"p":"f","n":"N = 40","t":1.21,"v":8.3,"e":0.3},{"p":"f","n":"N = 40","t":1.27,"v":6.8,"e":0.25},{"p":"f","n":"N = 40","t":1.32,"v":5.5,"e":0.2},{"p":"f","n":"N = 40","t":1.4,"v":4.1,"e":0.15},{"p":"f","n":"N = 40","t":1.47,"v":3.2,"e":0.1},{"p":"f","n":"N = 40","t":1.6,"v":2.5,"e":0.08},{"p":"f","n":"N = 40","t":1.8,"v":1.95,"e":0.06},{"p":"f","n":"N = 40","t":2.0,"v":1.6,"e":0.05},{"p":"f","n":"N = 40","t":2.25,"v":1.25,"e":0.04},{"p":"f","n":"N = 40","t":2.5,"v":1.02,"e":0.03},{"p":"f","n":"N = 40","t":2.75,"v":0.85,"e":0.03},{"p":"f","n":"N = 40","t":3.0,"v":0.7,"e":0.03},
{"p":"f","n":"N = 80","t":0.72,"v":30,"e":1},{"p":"f","n":"N = 80","t":0.74,"v":18.5,"e":1},{"p":"f","n":"N = 80","t":0.77,"v":8.9,"e":1},{"p":"f","n":"N = 80","t":0.79,"v":5.0,"e":0.8},{"p":"f","n":"N = 80","t":0.81,"v":1.3,"e":0.5},{"p":"f","n":"N = 80","t":0.83,"v":0.5,"e":0.3},{"p":"f","n":"N = 80","t":0.89,"v":1.4,"e":0.3},{"p":"f","n":"N = 80","t":0.94,"v":4.2,"e":0.4},{"p":"f","n":"N = 80","t":0.99,"v":10.3,"e":0.6},{"p":"f","n":"N = 80","t":1.02,"v":14.5,"e":0.8},{"p":"f","n":"N = 80","t":1.05,"v":18.1,"e":1.0},{"p":"f","n":"N = 80","t":1.08,"v":15.9,"e":0.8},{"p":"f","n":"N = 80","t":1.13,"v":13.1,"e":0.6},{"p":"f","n":"N = 80","t":1.18,"v":9.4,"e":0.4},{"p":"f","n":"N = 80","t":1.23,"v":6.9,"e":0.3},{"p":"f","n":"N = 80","t":1.32,"v":5.0,"e":0.2},{"p":"f","n":"N = 80","t":1.44,"v":3.3,"e":0.15},{"p":"f","n":"N = 80","t":1.6,"v":2.4,"e":0.1},{"p":"f","n":"N = 80","t":1.8,"v":1.9,"e":0.08},{"p":"f","n":"N = 80","t":2.0,"v":1.55,"e":0.06},{"p":"f","n":"N = 80","t":2.25,"v":1.22,"e":0.05},{"p":"f","n":"N = 80","t":2.5,"v":1.0,"e":0.04},{"p":"f","n":"N = 80","t":2.75,"v":0.83,"e":0.03},{"p":"f","n":"N = 80","t":3.0,"v":0.7,"e":0.03},
{"p":"f","n":"N = 100","t":0.76,"v":30,"e":1},{"p":"f","n":"N = 100","t":0.79,"v":21.7,"e":1},{"p":"f","n":"N = 100","t":0.795,"v":14.0,"e":1},{"p":"f","n":"N = 100","t":0.81,"v":5,"e":0.8},{"p":"f","n":"N = 100","t":0.83,"v":0.1,"e":0.1},{"p":"f","n":"N = 100","t":0.88,"v":0.2,"e":0.1},{"p":"f","n":"N = 100","t":0.94,"v":1.6,"e":0.3},{"p":"f","n":"N = 100","t":0.96,"v":3.6,"e":0.5},{"p":"f","n":"N = 100","t":0.99,"v":11.0,"e":0.8},{"p":"f","n":"N = 100","t":1.015,"v":15.3,"e":1.0},{"p":"f","n":"N = 100","t":1.04,"v":19.5,"e":1.3},{"p":"f","n":"N = 100","t":1.06,"v":21.4,"e":1.6},{"p":"f","n":"N = 100","t":1.085,"v":20.0,"e":1.3},{"p":"f","n":"N = 100","t":1.11,"v":17.5,"e":1.0},{"p":"f","n":"N = 100","t":1.14,"v":13.9,"e":0.8},{"p":"f","n":"N = 100","t":1.16,"v":11.7,"e":0.6},{"p":"f","n":"N = 100","t":1.18,"v":9.4,"e":0.5},{"p":"f","n":"N = 100","t":1.23,"v":7.2,"e":0.3},{"p":"f","n":"N = 100","t":1.32,"v":5.24,"e":0.2},{"p":"f","n":"N = 100","t":1.44,"v":3.3,"e":0.15},{"p":"f","n":"N = 100","t":1.69,"v":1.9,"e":0.1},{"p":"f","n":"N = 100","t":2.0,"v":1.35,"e":0.06},{"p":"f","n":"N = 100","t":2.25,"v":1.1,"e":0.05},{"p":"f","n":"N = 100","t":2.5,"v":0.92,"e":0.04},{"p":"f","n":"N = 100","t":2.75,"v":0.8,"e":0.03},{"p":"f","n":"N = 100","t":3.0,"v":0.72,"e":0.03}
]
},
"concat": [
{"width": 397, "height": 299, "title": {"text": "IF subcritical", "offset": -1, "dx": -21},
 "resolve": {"legend": {"color": "independent"}},
 "encoding": {"x": {"field": "t", "type": "quantitative", "scale": {"domain": [0, 3], "nice": false, "zero": false}, "axis": {"title": null, "labels": false, "values": [0, 0.5, 1, 1.5, 2, 2.5, 3]}}},
 "layer": [
  {"data": {"name": "shade"}, "transform": [{"filter": "datum.p == 'a'"}], "mark": {"type": "rect", "color": "#d9d9d9", "stroke": "#b8b8b8", "strokeWidth": 1}, "encoding": {"x2": {"field": "t2"}}},
  {"data": {"name": "curves"}, "transform": [{"filter": "datum.p == 'a'"}], "mark": {"type": "errorband", "band": {"opacity": 0.45}, "clip": true}, "encoding": {"y": {"field": "v", "type": "quantitative", "scale": {"domain": [0, 3.5], "nice": false, "zero": false}, "axis": {"title": "Cᵥ/N", "values": [0, 0.5, 1, 1.5, 2, 2.5, 3, 3.5], "format": ".1f"}}, "yError": {"field": "e"}, "color": {"field": "n", "type": "nominal", "scale": {"domain": ["N = 20", "N = 40", "N = 80", "N = 100"], "range": ["#6b8e23", "#4682b4", "#87ceeb", "#ff8c00"]}, "legend": null}}},
  {"data": {"name": "curves"}, "transform": [{"filter": "datum.p == 'a'"}], "mark": {"type": "line", "strokeWidth": 3.5, "clip": true, "interpolate": "monotone"}, "encoding": {"y": {"field": "v", "type": "quantitative", "axis": {"title": "Cᵥ/N", "values": [0, 0.5, 1, 1.5, 2, 2.5, 3, 3.5], "format": ".1f"}}, "color": {"field": "n", "type": "nominal", "legend": null}}},
  {"data": {"name": "curves"}, "transform": [{"filter": "datum.p == 'a'"}], "mark": {"type": "point", "filled": true, "size": 18, "opacity": 1, "clip": true}, "encoding": {"y": {"field": "v", "type": "quantitative"}, "color": {"field": "n", "type": "nominal", "legend": {"title": null, "orient": "none", "legendX": 233, "legendY": 20, "symbolType": "circle", "symbolSize": 90, "symbolStrokeWidth": 0, "symbolOpacity": 1, "labelFont": "Liberation Serif", "labelFontSize": 24, "labelOffset": 34, "rowPadding": 10, "padding": 0}}}},
  {"data": {"name": "tc"}, "mark": {"type": "rule", "color": "#ff0000", "strokeDash": [6, 4], "strokeWidth": 1.5}, "encoding": {}},
  {"data": {"name": "labels"}, "transform": [{"filter": "datum.p == 'a'"}], "mark": {"type": "text", "font": "Liberation Serif", "fontSize": 30, "align": "center", "baseline": "middle"}, "encoding": {"y": {"field": "v", "type": "quantitative"}, "text": {"field": "s"}}}
 ]},
{"width": 397, "height": 299, "title": {"text": "IF critical", "dx": -8},
 "encoding": {"x": {"field": "t", "type": "quantitative", "scale": {"domain": [0, 3], "nice": false, "zero": false}, "axis": {"title": null, "labels": false, "values": [0, 0.5, 1, 1.5, 2, 2.5, 3]}}},
 "layer": [
  {"data": {"name": "shade"}, "transform": [{"filter": "datum.p == 'b'"}], "mark": {"type": "rect", "color": "#d9d9d9", "stroke": "#b8b8b8", "strokeWidth": 1}, "encoding": {"x2": {"field": "t2"}}},
  {"data": {"name": "curves"}, "transform": [{"filter": "datum.p == 'b'"}], "mark": {"type": "errorband", "band": {"opacity": 0.45}, "clip": true}, "encoding": {"y": {"field": "v", "type": "quantitative", "scale": {"domain": [0, 3.5], "nice": false, "zero": false}, "axis": {"title": null, "labels": false, "values": [0, 0.5, 1, 1.5, 2, 2.5, 3, 3.5]}}, "yError": {"field": "e"}, "color": {"field": "n", "type": "nominal", "legend": null}}},
  {"data": {"name": "curves"}, "transform": [{"filter": "datum.p == 'b'"}], "mark": {"type": "line", "strokeWidth": 3.5, "clip": true, "interpolate": "monotone"}, "encoding": {"y": {"field": "v", "type": "quantitative", "axis": {"title": null, "labels": false, "values": [0, 0.5, 1, 1.5, 2, 2.5, 3, 3.5]}}, "color": {"field": "n", "type": "nominal", "legend": null}}},
  {"data": {"name": "curves"}, "transform": [{"filter": "datum.p == 'b'"}], "mark": {"type": "point", "filled": true, "size": 18, "opacity": 1, "clip": true}, "encoding": {"y": {"field": "v", "type": "quantitative"}, "color": {"field": "n", "type": "nominal", "legend": null}}},
  {"data": {"name": "tc"}, "mark": {"type": "rule", "color": "#ff0000", "strokeDash": [6, 4], "strokeWidth": 1.5}, "encoding": {}},
  {"data": {"name": "labels"}, "transform": [{"filter": "datum.p == 'b'"}], "mark": {"type": "text", "font": "Liberation Serif", "fontSize": 30, "align": "center", "baseline": "middle"}, "encoding": {"y": {"field": "v", "type": "quantitative"}, "text": {"field": "s"}}}
 ]},
{"width": 397, "height": 299, "title": {"text": "IF supercritical", "dx": -9},
 "encoding": {"x": {"field": "t", "type": "quantitative", "scale": {"domain": [0, 3], "nice": false, "zero": false}, "axis": {"title": null, "labels": false, "values": [0, 0.5, 1, 1.5, 2, 2.5, 3]}}},
 "layer": [
  {"data": {"name": "shade"}, "transform": [{"filter": "datum.p == 'c'"}], "mark": {"type": "rect", "color": "#d9d9d9", "stroke": "#b8b8b8", "strokeWidth": 1}, "encoding": {"x2": {"field": "t2"}}},
  {"data": {"name": "curves"}, "transform": [{"filter": "datum.p == 'c'"}], "mark": {"type": "errorband", "band": {"opacity": 0.45}, "clip": true}, "encoding": {"y": {"field": "v", "type": "quantitative", "scale": {"domain": [0, 3.5], "nice": false, "zero": false}, "axis": {"title": null, "labels": false, "values": [0, 0.5, 1, 1.5, 2, 2.5, 3, 3.5]}}, "yError": {"field": "e"}, "color": {"field": "n", "type": "nominal", "legend": null}}},
  {"data": {"name": "curves"}, "transform": [{"filter": "datum.p == 'c'"}], "mark": {"type": "line", "strokeWidth": 3.5, "clip": true, "interpolate": "monotone"}, "encoding": {"y": {"field": "v", "type": "quantitative", "axis": {"title": null, "labels": false, "values": [0, 0.5, 1, 1.5, 2, 2.5, 3, 3.5]}}, "color": {"field": "n", "type": "nominal", "legend": null}}},
  {"data": {"name": "curves"}, "transform": [{"filter": "datum.p == 'c'"}], "mark": {"type": "point", "filled": true, "size": 18, "opacity": 1, "clip": true}, "encoding": {"y": {"field": "v", "type": "quantitative"}, "color": {"field": "n", "type": "nominal", "legend": null}}},
  {"data": {"name": "tc"}, "mark": {"type": "rule", "color": "#ff0000", "strokeDash": [6, 4], "strokeWidth": 1.5}, "encoding": {}},
  {"data": {"name": "labels"}, "transform": [{"filter": "datum.p == 'c'"}], "mark": {"type": "text", "font": "Liberation Serif", "fontSize": 30, "align": "center", "baseline": "middle"}, "encoding": {"y": {"field": "v", "type": "quantitative"}, "text": {"field": "s"}}}
 ]},
{"width": 397, "height": 299,
 "encoding": {"x": {"field": "t", "type": "quantitative", "scale": {"domain": [0, 3], "nice": false, "zero": false}, "axis": {"title": "T", "format": ".1f", "values": [0, 0.5, 1, 1.5, 2, 2.5, 3]}}},
 "layer": [
  {"data": {"name": "shade"}, "transform": [{"filter": "datum.p == 'd'"}], "mark": {"type": "rect", "color": "#d9d9d9", "stroke": "#b8b8b8", "strokeWidth": 1}, "encoding": {"x2": {"field": "t2"}}},
  {"data": {"name": "curves"}, "transform": [{"filter": "datum.p == 'd'"}], "mark": {"type": "errorband", "band": {"opacity": 0.45}, "clip": true}, "encoding": {"y": {"field": "v", "type": "quantitative", "scale": {"domain": [0, 25], "nice": false, "zero": false}, "axis": {"title": "χ/N", "values": [0, 5, 10, 15, 20, 25]}}, "yError": {"field": "e"}, "color": {"field": "n", "type": "nominal", "legend": null}}},
  {"data": {"name": "curves"}, "transform": [{"filter": "datum.p == 'd'"}], "mark": {"type": "line", "strokeWidth": 3.5, "clip": true, "interpolate": "monotone"}, "encoding": {"y": {"field": "v", "type": "quantitative", "axis": {"title": "χ/N", "values": [0, 5, 10, 15, 20, 25]}}, "color": {"field": "n", "type": "nominal", "legend": null}}},
  {"data": {"name": "curves"}, "transform": [{"filter": "datum.p == 'd'"}], "mark": {"type": "point", "filled": true, "size": 18, "opacity": 1, "clip": true}, "encoding": {"y": {"field": "v", "type": "quantitative"}, "color": {"field": "n", "type": "nominal", "legend": null}}},
  {"data": {"name": "tc"}, "mark": {"type": "rule", "color": "#ff0000", "strokeDash": [6, 4], "strokeWidth": 1.5}, "encoding": {}},
  {"data": {"name": "labels"}, "transform": [{"filter": "datum.p == 'd'"}], "mark": {"type": "text", "font": "Liberation Serif", "fontSize": 30, "align": "center", "baseline": "middle"}, "encoding": {"y": {"field": "v", "type": "quantitative"}, "text": {"field": "s"}}}
 ]},
{"width": 397, "height": 299,
 "encoding": {"x": {"field": "t", "type": "quantitative", "scale": {"domain": [0, 3], "nice": false, "zero": false}, "axis": {"title": "T", "format": ".1f", "values": [0, 0.5, 1, 1.5, 2, 2.5, 3]}}},
 "layer": [
  {"data": {"name": "shade"}, "transform": [{"filter": "datum.p == 'e'"}], "mark": {"type": "rect", "color": "#d9d9d9", "stroke": "#b8b8b8", "strokeWidth": 1}, "encoding": {"x2": {"field": "t2"}}},
  {"data": {"name": "curves"}, "transform": [{"filter": "datum.p == 'e'"}], "mark": {"type": "errorband", "band": {"opacity": 0.45}, "clip": true}, "encoding": {"y": {"field": "v", "type": "quantitative", "scale": {"domain": [0, 25], "nice": false, "zero": false}, "axis": {"title": null, "labels": false, "values": [0, 5, 10, 15, 20, 25]}}, "yError": {"field": "e"}, "color": {"field": "n", "type": "nominal", "legend": null}}},
  {"data": {"name": "curves"}, "transform": [{"filter": "datum.p == 'e'"}], "mark": {"type": "line", "strokeWidth": 3.5, "clip": true, "interpolate": "monotone"}, "encoding": {"y": {"field": "v", "type": "quantitative", "axis": {"title": null, "labels": false, "values": [0, 5, 10, 15, 20, 25]}}, "color": {"field": "n", "type": "nominal", "legend": null}}},
  {"data": {"name": "curves"}, "transform": [{"filter": "datum.p == 'e'"}], "mark": {"type": "point", "filled": true, "size": 18, "opacity": 1, "clip": true}, "encoding": {"y": {"field": "v", "type": "quantitative"}, "color": {"field": "n", "type": "nominal", "legend": null}}},
  {"data": {"name": "tc"}, "mark": {"type": "rule", "color": "#ff0000", "strokeDash": [6, 4], "strokeWidth": 1.5}, "encoding": {}},
  {"data": {"name": "labels"}, "transform": [{"filter": "datum.p == 'e'"}], "mark": {"type": "text", "font": "Liberation Serif", "fontSize": 30, "align": "center", "baseline": "middle"}, "encoding": {"y": {"field": "v", "type": "quantitative"}, "text": {"field": "s"}}}
 ]},
{"width": 397, "height": 299,
 "encoding": {"x": {"field": "t", "type": "quantitative", "scale": {"domain": [0, 3], "nice": false, "zero": false}, "axis": {"title": "T", "format": ".1f", "values": [0, 0.5, 1, 1.5, 2, 2.5, 3]}}},
 "layer": [
  {"data": {"name": "shade"}, "transform": [{"filter": "datum.p == 'f'"}], "mark": {"type": "rect", "color": "#d9d9d9", "stroke": "#b8b8b8", "strokeWidth": 1}, "encoding": {"x2": {"field": "t2"}}},
  {"data": {"name": "curves"}, "transform": [{"filter": "datum.p == 'f'"}], "mark": {"type": "errorband", "band": {"opacity": 0.45}, "clip": true}, "encoding": {"y": {"field": "v", "type": "quantitative", "scale": {"domain": [0, 25], "nice": false, "zero": false}, "axis": {"title": null, "labels": false, "values": [0, 5, 10, 15, 20, 25]}}, "yError": {"field": "e"}, "color": {"field": "n", "type": "nominal", "legend": null}}},
  {"data": {"name": "curves"}, "transform": [{"filter": "datum.p == 'f'"}], "mark": {"type": "line", "strokeWidth": 3.5, "clip": true, "interpolate": "monotone"}, "encoding": {"y": {"field": "v", "type": "quantitative", "axis": {"title": null, "labels": false, "values": [0, 5, 10, 15, 20, 25]}}, "color": {"field": "n", "type": "nominal", "legend": null}}},
  {"data": {"name": "curves"}, "transform": [{"filter": "datum.p == 'f'"}], "mark": {"type": "point", "filled": true, "size": 18, "opacity": 1, "clip": true}, "encoding": {"y": {"field": "v", "type": "quantitative"}, "color": {"field": "n", "type": "nominal", "legend": null}}},
  {"data": {"name": "tc"}, "mark": {"type": "rule", "color": "#ff0000", "strokeDash": [6, 4], "strokeWidth": 1.5}, "encoding": {}},
  {"data": {"name": "labels"}, "transform": [{"filter": "datum.p == 'f'"}], "mark": {"type": "text", "font": "Liberation Serif", "fontSize": 30, "align": "center", "baseline": "middle"}, "encoding": {"y": {"field": "v", "type": "quantitative"}, "text": {"field": "s"}}}
 ]}
],
"columns": 3,
"spacing": {"row": 41, "column": 35},
"bounds": "flush",
"resolve": {"legend": {"color": "independent"}},
"config": {
 "view": {"stroke": "black", "strokeWidth": 1.5},
 "font": "Liberation Serif",
 "title": {"font": "Liberation Serif", "fontSize": 36, "fontWeight": "normal", "color": "black", "offset": 10},
 "axis": {"labelFont": "Liberation Serif", "labelFontSize": 22, "titleFont": "Liberation Serif", "titleFontSize": 26, "titleFontStyle": "italic", "titleFontWeight": "normal", "tickSize": 14, "tickWidth": 1.5, "tickColor": "black", "domainColor": "black", "domainWidth": 1.5, "labelColor": "black", "titleColor": "black", "grid": false, "labelPadding": 3, "labelFlush": false, "labelOverlap": false, "titlePadding": 6},
 "axisX": {"labelPadding": 3, "labelFontSize": 21, "titlePadding": 1, "titleFontSize": 21},
 "axisY": {"titlePadding": 6}
}
}
